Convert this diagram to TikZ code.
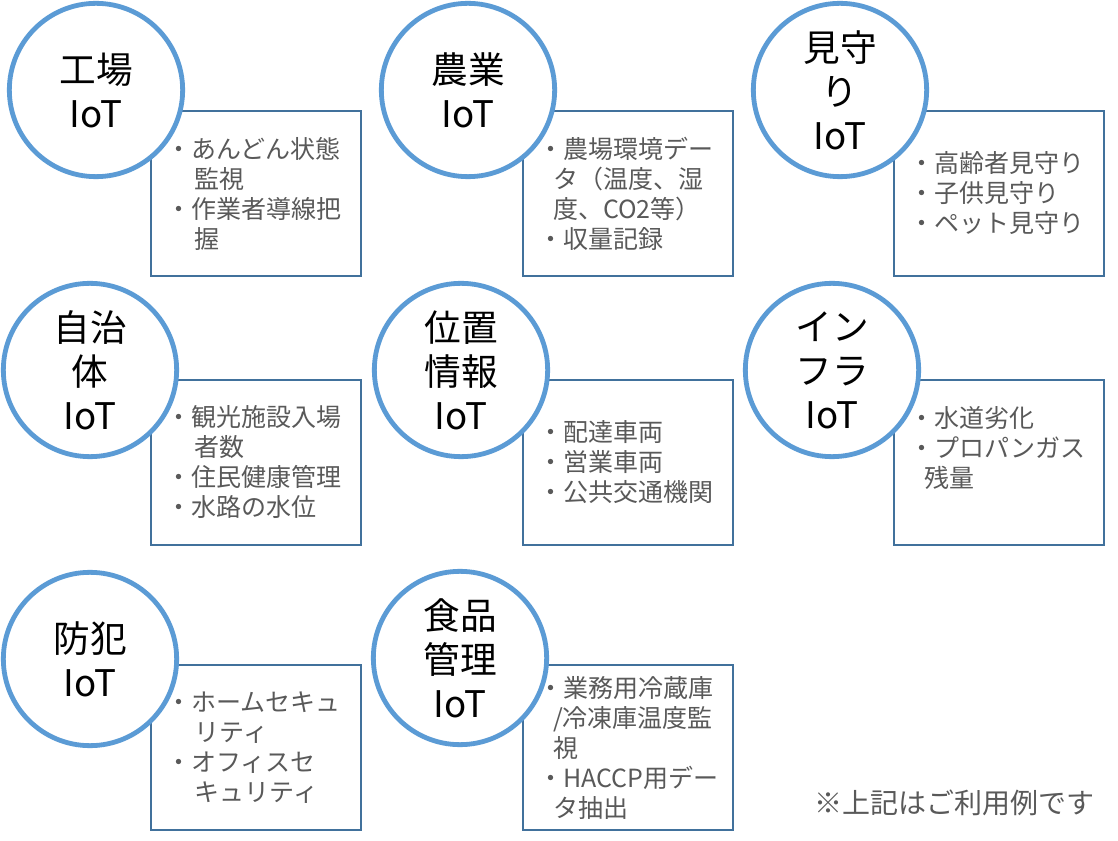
\documentclass[tikz,border=0pt]{standalone}
\usepackage{fontspec}
\setmainfont{Noto Sans CJK JP}
\usepackage{tikz}
\usetikzlibrary{shapes}
\definecolor{topicblue}{HTML}{5B9BD5}
\definecolor{boxblue}{HTML}{41719C}
\definecolor{listgray}{HTML}{595959}
\newcommand{\wrapwide}{\hspace*{1.15em}}
\newcommand{\wrapnarrow}{\hspace*{0.6em}}
\tikzstyle{topic}=[circle,draw=topicblue,line width=3.6pt,fill=white,minimum size=130pt,inner sep=0pt,align=center,text=black,font=\fontsize{27.5pt}{33pt}\selectfont]
\tikzstyle{usecase}=[draw=boxblue,line width=1.5pt,anchor=north west,minimum width=157.5pt,minimum height=123.75pt,inner xsep=11.25pt,text width=135pt,align=left,text=listgray,font=\fontsize{18.75pt}{22.5pt}\selectfont]
\tikzstyle{remark}=[text=listgray,font=\fontsize{21pt}{25pt}\selectfont]

\begin{document}
\begin{tikzpicture}[x=0.75pt,y=-0.75pt]
    \useasboundingbox (0,0) rectangle (1118,841);
    % First the boxes with the use cases
    \foreach \pos/\name/\items in {{(150,110)/factory/{・あんどん状態\\\wrapwide 監視\\・作業者導線把\\\wrapwide 握}},
        {(522,110)/farm/{・農場環境デー\\\wrapnarrow タ（温度、湿\\\wrapnarrow 度、CO2等）\\・収量記録}},
        {(893,110)/watch/{・高齢者見守り\\・子供見守り\\・ペット見守り}},
        {(150,379)/city/{・観光施設入場\\\wrapwide 者数\\・住民健康管理\\・水路の水位}},
        {(522,379)/location/{・配達車両\\・営業車両\\・公共交通機関}},
        {(893,379)/infra/{・水道劣化\\・プロパンガス\\\wrapnarrow 残量\\\mbox{}}},
        {(150,664)/security/{・ホームセキュ\\\wrapwide リティ\\・オフィスセ\\\wrapwide キュリティ}},
        {(522,664)/food/{・業務用冷蔵庫\\\wrapnarrow /冷凍庫温度監\\\wrapnarrow 視\\・HACCP用デー\\\wrapnarrow タ抽出}}}
        \node[usecase] (\name-uses) at \pos {\items};

    % Then the circles on top of the box corners
    \foreach \pos/\name/\label in {{(96,90)/factory/工場\\IoT}, {(468,90)/farm/農業\\IoT}, {(840,90)/watch/見守\\り\\IoT},
        {(90,370)/city/自治\\体\\IoT}, {(461,370)/location/位置\\情報\\IoT}, {(832,370)/infra/イン\\フラ\\IoT},
        {(90,659)/security/防犯\\IoT}, {(460,658)/food/食品\\管理\\IoT}}
        \node[topic] (\name) at \pos {\label};

    \node[remark] (note) at (954,803) {※上記はご利用例です};
\end{tikzpicture}
\end{document}
